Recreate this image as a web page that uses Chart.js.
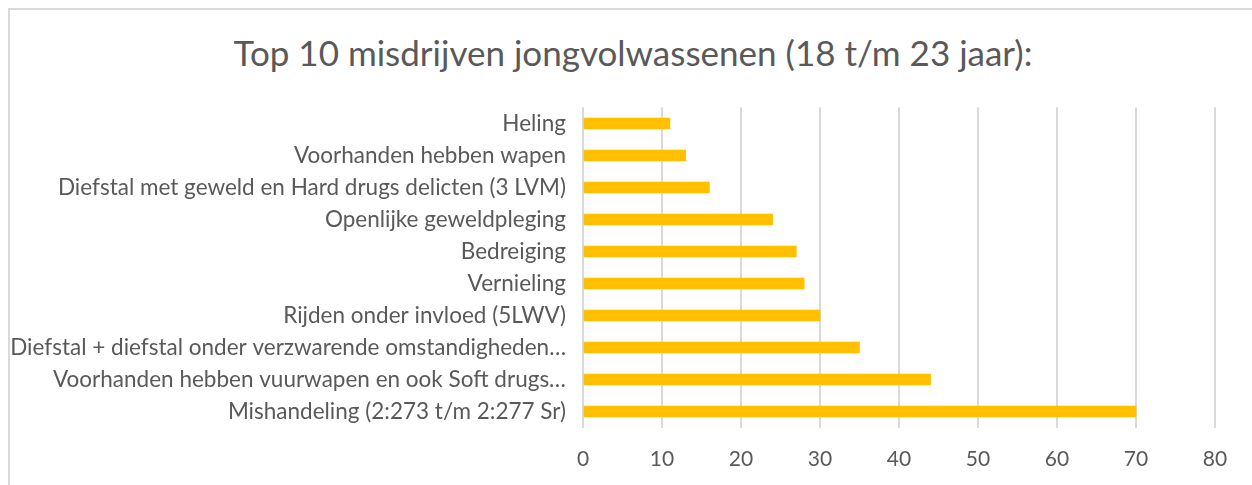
<!DOCTYPE html>
<html>
<head>
<meta charset="utf-8">
<script src="https://cdn.jsdelivr.net/npm/chart.js@4"></script>
<style>
    html, body { margin: 0; padding: 0; background: #fff; }
    #wrap { position: relative; width: 1252px; height: 485px; overflow: hidden; }
    #frame {
        position: absolute; left: 8px; top: 8px; width: 1300px; height: 600px;
        border-left: 2px solid #d9d9d9; border-top: 2px solid #d9d9d9;
    }
    #titel {
        position: absolute; left: 0; top: 31px; width: 1266px; height: 42px;
        line-height: 42px; text-align: center; white-space: nowrap;
        font-family: 'Lato'; font-size: 35px; color: #595959;
    }
    #misdrijven { position: absolute; left: 0; top: 0; }
</style>
</head>
<body>
<div id="wrap">
    <div id="frame"></div>
    <div id="titel"></div>
    <canvas id="misdrijven" width="1252" height="485"></canvas>
</div>
<script>
// categorieen van boven naar beneden
var categories = [
    "Heling",
    "Voorhanden hebben wapen",
    "Diefstal met geweld en Hard drugs delicten (3 LVM)",
    "Openlijke geweldpleging",
    "Bedreiging",
    "Vernieling",
    "Rijden onder invloed (5LWV)",
    "Diefstal + diefstal onder verzwarende omstandigheden…",
    "Voorhanden hebben vuurwapen en ook Soft drugs…",
    "Mishandeling (2:273 t/m 2:277 Sr)"
];
var aantallen = [11, 13, 16, 24, 27, 28, 30, 35, 44, 70];
var xTicks = [0, 10, 20, 30, 40, 50, 60, 70, 80];
var titel = "Top 10 misdrijven jongvolwassenen (18 t/m 23 jaar):";

var grijs = '#595959';
var fontNaam = 'Lato';

document.getElementById('titel').textContent = titel;

var ctx = document.getElementById('misdrijven');
var chart = new Chart(ctx, {
    type: 'bar',
    data: {
        labels: categories,
        datasets: [{
            label: 'Aantal',
            data: aantallen,
            backgroundColor: '#ffc000',
            borderWidth: 0,
            barThickness: 11
        }]
    },
    options: {
        indexAxis: 'y',
        responsive: false,
        animation: false,
        layout: {
            padding: { left: 0, right: 37, top: 107.5, bottom: 0 }
        },
        plugins: {
            legend: { display: false },
            tooltip: { enabled: false },
            title: { display: false }
        },
        scales: {
            x: {
                min: xTicks[0],
                max: xTicks[xTicks.length - 1],
                afterBuildTicks: function(scale) {
                    scale.ticks = xTicks.map(function(v) { return { value: v }; });
                },
                afterFit: function(scale) {
                    scale.height = 57.5;
                },
                border: { display: false },
                grid: {
                    color: '#d9d9d9',
                    lineWidth: 2,
                    drawTicks: false
                },
                ticks: {
                    color: grijs,
                    padding: 19,
                    maxRotation: 0,
                    font: { family: fontNaam, size: 21 }
                }
            },
            y: {
                afterFit: function(scale) {
                    scale.width = 583;
                },
                border: { display: false },
                grid: { display: false, drawTicks: false },
                ticks: {
                    color: grijs,
                    padding: 17,
                    autoSkip: false,
                    font: { family: fontNaam, size: 22.5 }
                }
            }
        }
    }
});
</script>
</body>
</html>
